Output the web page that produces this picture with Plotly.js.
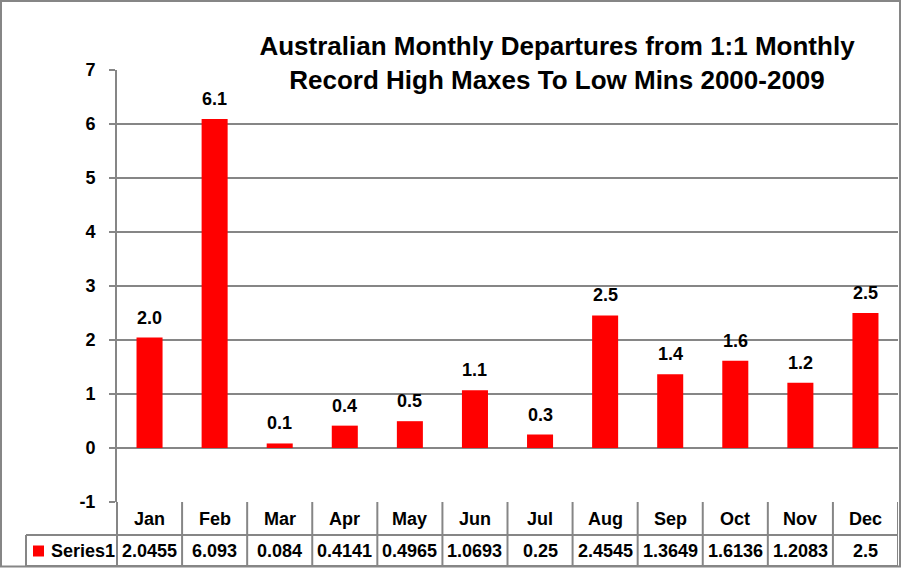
<!DOCTYPE html>
<html>
<head>
<meta charset="utf-8">
<script src="https://cdn.plot.ly/plotly-3.0.1.min.js"></script>
<style>html,body{margin:0;padding:0;background:#fff;}#chart{width:902px;height:568px;}</style>
</head>
<body>
<div id="chart"></div>
<script>
// ---- data ----
var months = ['Jan','Feb','Mar','Apr','May','Jun','Jul','Aug','Sep','Oct','Nov','Dec'];
var values = [2.0455, 6.093, 0.084, 0.4141, 0.4965, 1.0693, 0.25, 2.4545, 1.3649, 1.6136, 1.2083, 2.5];
var seriesName = 'Series1';
var yTicks = [-1, 0, 1, 2, 3, 4, 5, 6, 7];
var titleText = 'Australian Monthly Departures from 1:1 Monthly<br>Record High Maxes To Low Mins 2000-2009';

// ---- style ----
var FONT = 'Liberation Sans, Arial, sans-serif';
var RED = '#ff0000';
var GRAY = '#868686';
var W = 902, H = 568;
var L = 117, R = 898, T = 70, B = 502;
function px2x(px){ return (px - L) / (R - L); }
function px2y(py){ return (B - py) / (B - T); }

var trace = {
  type: 'bar',
  x: months,
  y: values,
  name: seriesName,
  marker: {color: RED},
  hoverinfo: 'x+y'
};

var annotations = [];
// data labels
months.forEach(function(m, i){
  annotations.push({
    x: m, y: values[i], xref: 'x', yref: 'y',
    text: values[i].toFixed(1), showarrow: false,
    yanchor: 'bottom', yshift: 8,
    font: {family: FONT, size: 18, color: '#000', weight: 'bold'}
  });
});
// table header (month names) and values
months.forEach(function(m, i){
  annotations.push({
    x: m, xref: 'x', yref: 'paper', y: px2y(519),
    text: m, showarrow: false, yanchor: 'middle',
    font: {family: FONT, size: 18, color: '#000', weight: 'bold'}
  });
  annotations.push({
    x: m, xref: 'x', yref: 'paper', y: px2y(551),
    text: String(values[i]), showarrow: false, yanchor: 'middle',
    font: {family: FONT, size: 18, color: '#000', weight: 'bold'}
  });
});
// legend label in the table
annotations.push({
  xref: 'paper', yref: 'paper', x: px2x(49), y: px2y(551),
  xanchor: 'left', yanchor: 'middle', text: seriesName, showarrow: false,
  font: {family: FONT, size: 18, color: '#000', weight: 'bold'}
});

var ln = {color: GRAY, width: 2};
var shapes = [
  // outer chart border
  {type: 'rect', xref: 'paper', yref: 'paper', x0: px2x(1), x1: px2x(900), y0: px2y(1), y1: px2y(566.5), line: ln, layer: 'above'},
  // table horizontals
  {type: 'line', xref: 'paper', yref: 'paper', x0: px2x(26), x1: px2x(R), y0: px2y(535), y1: px2y(535), line: ln},
  {type: 'line', xref: 'paper', yref: 'paper', x0: px2x(26), x1: px2x(R), y0: px2y(566), y1: px2y(566), line: ln},
  // table left verticals
  {type: 'line', xref: 'paper', yref: 'paper', x0: px2x(26), x1: px2x(26), y0: px2y(535), y1: px2y(566), line: ln},
  {type: 'line', xref: 'paper', yref: 'paper', x0: 0, x1: 0, y0: 0, y1: px2y(566), line: ln},
  // legend key
  {type: 'rect', xref: 'paper', yref: 'paper', x0: px2x(33), x1: px2x(44), y0: px2y(545.5), y1: px2y(556.5), fillcolor: RED, line: {width: 0}}
];
months.forEach(function(m, i){
  shapes.push({type: 'line', xref: 'x', yref: 'paper', x0: i + 0.5, x1: i + 0.5, y0: 0, y1: px2y(566), line: ln});
});

var layout = {
  width: W, height: H,
  margin: {l: L, r: W - R, t: T, b: H - B, pad: 0},
  paper_bgcolor: '#fff', plot_bgcolor: '#fff',
  showlegend: false,
  bargap: 0.6,
  title: {
    text: titleText,
    font: {family: FONT, size: 26, color: '#000', weight: 'bold'},
    xref: 'container', x: 557 / W, xanchor: 'center',
    yref: 'container', y: 1 - 55 / H, yanchor: 'middle'
  },
  xaxis: {
    type: 'category', range: [-0.5, 11.5],
    showticklabels: false, showgrid: false, zeroline: false, showline: false, ticks: '',
    fixedrange: true
  },
  yaxis: {
    range: [-1, 7], tickvals: yTicks, ticktext: yTicks.map(String),
    showgrid: true, gridcolor: GRAY, gridwidth: 2,
    zeroline: true, zerolinecolor: GRAY, zerolinewidth: 2,
    showline: true, linecolor: GRAY, linewidth: 2,
    ticks: 'outside', ticklen: 6, tickcolor: GRAY, tickwidth: 2,
    ticklabelstandoff: 10,
    tickfont: {family: FONT, size: 18, color: '#000', weight: 'bold'},
    fixedrange: true
  },
  annotations: annotations,
  shapes: shapes
};

Plotly.newPlot('chart', [trace], layout, {displayModeBar: false, staticPlot: true});
</script>
</body>
</html>
